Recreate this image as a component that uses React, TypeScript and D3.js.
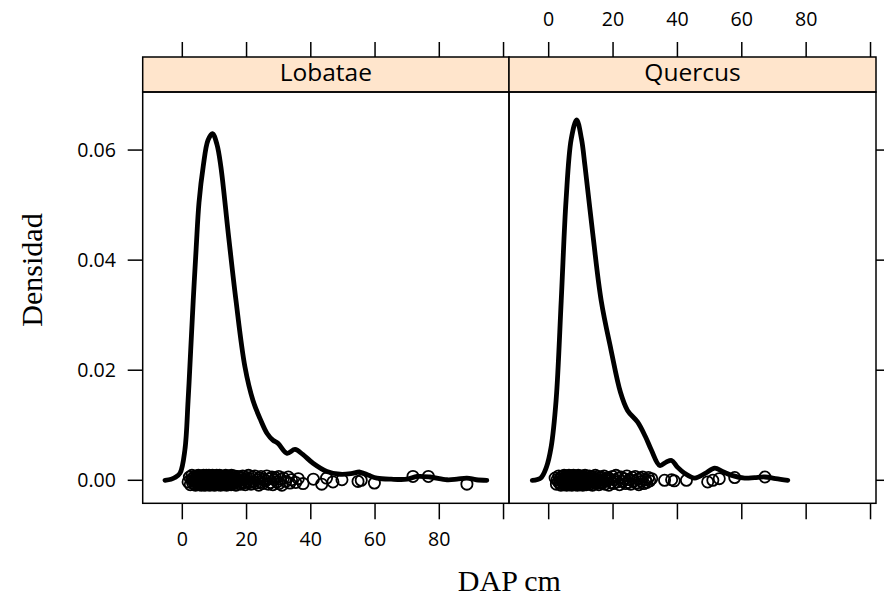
import React from "react";
import * as d3 from "d3";

// ---- data ----
const panelNames = ["Lobatae", "Quercus"];
const xTicks = [0, 20, 40, 60, 80, 100];
const xTickLabels = ["0", "20", "40", "60", "80", ""];
const yTicks = [0, 0.02, 0.04, 0.06];
const yTickLabels = ["0.00", "0.02", "0.04", "0.06"];
const xTitle = "DAP cm";
const yTitle = "Densidad";

// density curves: [DAP, density]
const lobataeCurve: [number, number][] = [
  [-5.4, 0.0], [-3.5, 0.0002], [-2.3, 0.0005], [-0.7, 0.0013], [0.8, 0.0055], [1.8, 0.0145],
  [2.6, 0.0235], [3.4, 0.0327], [4.3, 0.042], [5.2, 0.0505], [6.5, 0.057], [8.0, 0.0618],
  [9.4, 0.063], [10.8, 0.061], [12.0, 0.057], [14.3, 0.0449], [16.7, 0.0327], [19.5, 0.0206],
  [22.0, 0.0145], [24.2, 0.0112], [26.4, 0.0085], [28.2, 0.0073], [29.8, 0.0067], [32.6, 0.0049],
  [35.1, 0.0056], [37.5, 0.0047], [40.7, 0.0031], [45.0, 0.0016], [49.1, 0.0011], [52.5, 0.0012],
  [55.3, 0.0015], [58.0, 0.0009], [60.6, 0.0004], [65.0, 0.0002], [70.0, 0.0002], [73.1, 0.0007],
  [77.1, 0.0006], [82.4, 0.0001], [85.5, 0.0002], [88.6, 0.0004], [91.5, 0.0001], [94.8, 0.0],
];
const quercusCurve: [number, number][] = [
  [-5.1, 0.0], [-2.5, 0.0004], [-0.7, 0.0024], [0.75, 0.006], [2.3, 0.0145], [3.9, 0.0327],
  [5.4, 0.0509], [7.0, 0.062], [8.7, 0.0655], [10.2, 0.062], [11.3, 0.057], [13.7, 0.0448],
  [16.3, 0.0327], [19.4, 0.0236], [22.3, 0.016], [24.5, 0.0127], [27.6, 0.0106], [30.0, 0.008],
  [31.9, 0.0055], [34.5, 0.0027], [36.5, 0.0033], [38.2, 0.0036], [40.0, 0.0024], [42.2, 0.0013],
  [45.4, 0.0004], [48.5, 0.0012], [51.6, 0.0022], [54.0, 0.0016], [56.9, 0.0009], [60.9, 0.0004],
  [64.0, 0.0005], [67.2, 0.0006], [70.5, 0.0003], [74.3, 0.0],
];

// observed DAP values with their vertical jitter (jitter in 1e-4 density units)
const lobataePoints: [number, number][] = [
  [1.8, -3], [2.2, 6], [2.5, -8], [2.9, 2], [3.0, 9], [3.2, -5], [3.4, 4], [3.6, -1], [3.8, 7], [3.9, -7],
  [4.0, 1], [4.1, -9], [4.3, 5], [4.4, -3], [4.5, 8], [4.6, -6], [4.8, 3], [4.9, -1], [5.0, 9], [5.1, -4],
  [5.2, 6], [5.3, -8], [5.3, 2], [5.4, -2], [5.5, 7], [5.6, -6], [5.7, 0], [5.8, 5], [5.9, -9], [6.0, 3],
  [6.0, -4], [6.1, 8], [6.2, -1], [6.3, 5], [6.4, -7], [6.5, 2], [6.6, 9], [6.6, -5], [6.7, 0], [6.8, -8],
  [6.9, 6], [7.0, -3], [7.0, 4], [7.1, -9], [7.2, 7], [7.2, -1], [7.3, 3], [7.4, -6], [7.5, 9], [7.6, -2],
  [7.6, 5], [7.7, -7], [7.8, 1], [7.9, 8], [8.0, -4], [8.0, 3], [8.1, -8], [8.1, 6], [8.2, -1], [8.3, 9],
  [8.4, -5], [8.5, 2], [8.6, -9], [8.6, 7], [8.7, -2], [8.8, 4], [8.9, -6], [9.0, 8], [9.0, 0], [9.1, -3],
  [9.2, 6], [9.3, -7], [9.3, 1], [9.4, 9], [9.5, -4], [9.6, 3], [9.7, -8], [9.8, 5], [9.8, -1], [9.9, 7],
  [10.0, -5], [10.0, 2], [10.1, -9], [10.2, 6], [10.3, -2], [10.3, 8], [10.4, -6], [10.5, 1], [10.6, -3], [10.7, 9],
  [10.8, -7], [10.8, 4], [10.9, 0], [11.0, -4], [11.1, 7], [11.2, -8], [11.3, 3], [11.3, -1], [11.4, 6], [11.5, -6],
  [11.6, 9], [11.7, -3], [11.8, 2], [11.9, -9], [12.0, 5], [12.0, -2], [12.1, 8], [12.2, -5], [12.4, 1], [12.5, -7],
  [12.6, 6], [12.7, -1], [12.8, 4], [12.9, -8], [13.0, 7], [13.1, -3], [13.2, 2], [13.4, -6], [13.5, 9], [13.6, -2],
  [13.7, 5], [13.8, -9], [13.9, 0], [14.0, 6], [14.2, -4], [14.3, 8], [14.4, -7], [14.5, 3], [14.6, -1], [14.8, 7],
  [15.0, -5], [15.1, 2], [15.2, -8], [15.3, 9], [15.5, -3], [15.7, 4], [15.9, -6], [16.0, 1], [16.2, 8], [16.4, -4],
  [16.5, 5], [16.7, -9], [16.9, 3], [17.1, -2], [17.3, 7], [17.6, -6], [17.8, 0], [18.0, 6], [18.2, -7], [18.5, 4],
  [18.6, -3], [18.8, 8], [19.0, -5], [19.3, 2], [19.6, -8], [20.0, 5], [20.3, -1], [20.6, 9], [21.0, -4], [21.0, 3],
  [21.4, -7], [21.8, 6], [22.1, -2], [22.6, 8], [23.0, -5], [23.4, 1], [23.8, -9], [24.0, 4], [24.2, -3], [24.5, 7],
  [25.0, -6], [25.4, 2], [25.9, -1], [26.3, 8], [26.8, -7], [27.0, 3], [27.5, -4], [27.9, 6], [28.2, -8], [28.7, 1],
  [29.0, 5], [29.5, -3], [30.0, 7], [30.1, -6], [30.6, 2], [31.0, -9], [31.5, 4], [32.2, -2], [33.0, 6], [33.5, -5],
  [34.0, 1], [35.3, -4], [36.1, 3], [37.6, -6], [40.8, 2], [43.4, -7], [44.9, 4], [46.9, -3], [49.7, 1],
  [54.7, -2], [55.7, 0], [59.8, -5], [71.8, 7], [76.6, 7], [88.6, -7],
];
const quercusPoints: [number, number][] = [
  [2.0, 4], [2.4, -7], [2.6, 1], [3.0, -3], [3.1, 8], [3.4, -5], [3.5, 2], [3.8, -9], [3.9, 6], [4.1, -1],
  [4.2, 7], [4.4, -4], [4.5, 3], [4.7, -8], [4.8, 9], [4.9, -2], [5.0, 5], [5.1, -6], [5.2, 0], [5.3, 8],
  [5.4, -3], [5.5, 6], [5.6, -9], [5.7, 2], [5.8, -5], [5.9, 7], [6.0, -1], [6.1, 4], [6.2, -7], [6.3, 9],
  [6.3, -4], [6.4, 1], [6.5, -8], [6.6, 6], [6.7, -2], [6.8, 3], [6.9, -6], [7.0, 8], [7.0, -3], [7.1, 5],
  [7.2, -9], [7.3, 0], [7.3, 7], [7.4, -5], [7.5, 2], [7.6, -7], [7.7, 9], [7.8, -1], [7.9, 4], [8.0, -6],
  [8.0, 6], [8.1, -3], [8.2, 8], [8.3, -8], [8.4, 1], [8.5, -4], [8.6, 7], [8.7, -2], [8.8, 5], [8.9, -9],
  [9.0, 3], [9.1, -6], [9.2, 9], [9.3, -1], [9.4, 6], [9.5, -5], [9.6, 2], [9.7, -8], [9.8, 7], [9.9, -3],
  [10.0, 4], [10.1, -7], [10.2, 0], [10.3, 8], [10.4, -4], [10.5, 3], [10.6, -9], [10.8, 6], [10.9, -2], [11.0, 5],
  [11.1, -6], [11.3, 9], [11.4, -1], [11.6, 4], [11.7, -8], [11.9, 2], [12.0, 7], [12.2, -5], [12.3, 1], [12.5, -3],
  [12.6, 8], [12.8, -7], [13.0, 3], [13.2, -1], [13.4, 6], [13.6, -9], [13.8, 5], [14.0, -4], [14.2, 2], [14.5, 9],
  [14.7, -6], [15.0, 1], [15.1, -2], [15.4, 7], [15.6, -8], [15.9, 4], [16.0, -3], [16.3, 6], [16.6, -5], [16.9, 0],
  [17.2, 8], [17.5, -7], [17.8, 3], [18.1, -1], [18.4, 5], [18.7, -9], [19.0, 2], [19.4, -4], [19.8, 7], [20.1, -6],
  [20.5, 1], [20.9, 9], [21.3, -3], [21.7, 4], [22.0, -8], [22.5, 6], [23.0, -2], [23.5, 3], [23.9, -6], [24.3, 8],
  [24.7, -4], [25.1, 1], [25.5, -7], [26.0, 5], [26.4, -1], [26.9, 7], [27.3, -5], [27.7, 2], [28.0, -8], [28.4, 4],
  [28.8, -2], [29.2, 6], [29.6, -6], [30.1, 1], [30.5, -4], [31.0, 5], [31.4, -1], [32.0, 3],
  [36.0, 0], [38.2, 1], [39.0, -1], [42.8, 0], [49.4, -3], [51.0, 0], [53.0, 3], [57.8, 5], [67.2, 6],
];

const panelCurves = [lobataeCurve, quercusCurve];
const panelPoints = [lobataePoints, quercusPoints];

// ---- layout ----
const W = 884;
const H = 596;
const panelLeft = [142.7, 509];
const panelRight = [509, 876];
const panelTop = 92;
const panelBottom = 503.3;
const stripTop = 57;
const xDomain: [number, number] = [-12.33, 101.7];
const yDomain: [number, number] = [-0.00418, 0.07055];
const tickLen = 15;
const sans = "'Open Sans', sans-serif";
const serif = "'Liberation Serif', 'DejaVu Serif', serif";

export default function App() {
  const yScale = d3.scaleLinear().domain(yDomain).range([panelBottom, panelTop]);
  const xScales = panelNames.map((_, i) =>
    d3.scaleLinear().domain(xDomain).range([panelLeft[i], panelRight[i]])
  );

  return (
    <div style={{ position: "absolute", left: 0, top: 0 }}>
      <svg width={W} height={H} style={{ display: "block", background: "#fff" }}>
        {panelNames.map((name, i) => {
          const xs = xScales[i];
          const line = d3
            .line<[number, number]>()
            .x((d) => xs(d[0]))
            .y((d) => yScale(d[1]))
            .curve(d3.curveCatmullRom.alpha(0.5));
          const x0 = panelLeft[i];
          const x1 = panelRight[i];
          const cx = (x0 + x1) / 2;
          return (
            <g key={name}>
              {/* strip */}
              <rect x={x0} y={stripTop} width={x1 - x0} height={panelTop - stripTop} fill="#ffe5cc" stroke="#000" strokeWidth={1.5} />
              <text x={cx} y={81} textAnchor="middle" fontFamily={sans} fontSize={24.5} fill="#000">
                {name}
              </text>
              {/* points */}
              <g>
                {panelPoints[i].map((p, k) => (
                  <circle
                    key={k}
                    cx={xs(p[0])}
                    cy={yScale(p[1] * 0.0001)}
                    r={5.6}
                    fill="none"
                    stroke="#000"
                    strokeWidth={1.8}
                  />
                ))}
              </g>
              {/* curve */}
              <path d={line(panelCurves[i]) || ""} fill="none" stroke="#000" strokeWidth={4.8} strokeLinejoin="round" strokeLinecap="round" />
              {/* panel border */}
              <rect x={x0} y={panelTop} width={x1 - x0} height={panelBottom - panelTop} fill="none" stroke="#000" strokeWidth={1.5} />
              {/* x ticks top & bottom */}
              {xTicks.map((t, k) => (
                <g key={k}>
                  <line x1={xs(t)} x2={xs(t)} y1={stripTop} y2={stripTop - tickLen} stroke="#000" strokeWidth={1.5} />
                  <line x1={xs(t)} x2={xs(t)} y1={panelBottom} y2={panelBottom + tickLen + 1} stroke="#000" strokeWidth={1.5} />
                  {i === 0 ? (
                    <text x={xs(t)} y={546} textAnchor="middle" fontFamily={sans} fontSize={19.6} fill="#000">
                      {xTickLabels[k]}
                    </text>
                  ) : (
                    <text x={xs(t)} y={26} textAnchor="middle" fontFamily={sans} fontSize={19.6} fill="#000">
                      {xTickLabels[k]}
                    </text>
                  )}
                </g>
              ))}
              {/* y ticks */}
              {yTicks.map((t, k) =>
                i === 0 ? (
                  <g key={k}>
                    <line x1={x0} x2={x0 - tickLen} y1={yScale(t)} y2={yScale(t)} stroke="#000" strokeWidth={1.5} />
                    <text x={116} y={yScale(t) + 7} textAnchor="end" fontFamily={sans} fontSize={19.6} fill="#000">
                      {yTickLabels[k]}
                    </text>
                  </g>
                ) : (
                  <line key={k} x1={x1} x2={x1 + tickLen} y1={yScale(t)} y2={yScale(t)} stroke="#000" strokeWidth={1.5} />
                )
              )}
            </g>
          );
        })}
        <text x={(panelLeft[0] + panelRight[1]) / 2} y={591} textAnchor="middle" fontFamily={serif} fontSize={30} fill="#000">
          {xTitle}
        </text>
        <text
          transform={`translate(42, 270) rotate(-90)`}
          textAnchor="middle"
          fontFamily={serif}
          fontSize={30}
          fill="#000"
        >
          {yTitle}
        </text>
      </svg>
    </div>
  );
}
